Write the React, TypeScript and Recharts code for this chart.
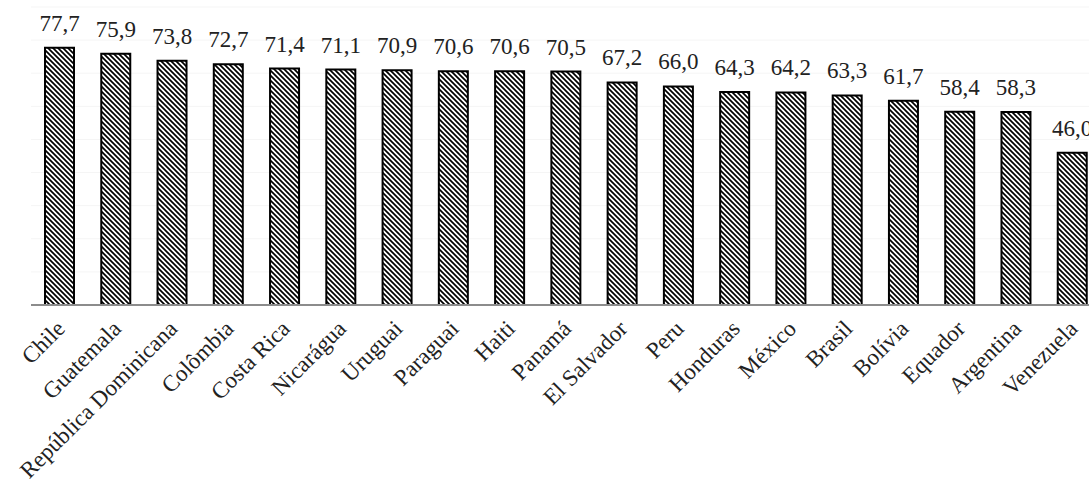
import { Bar, BarChart, CartesianGrid, LabelList, XAxis, YAxis } from "recharts";

const countries = [
  "Chile",
  "Guatemala",
  "República Dominicana",
  "Colômbia",
  "Costa Rica",
  "Nicarágua",
  "Uruguai",
  "Paraguai",
  "Haiti",
  "Panamá",
  "El Salvador",
  "Peru",
  "Honduras",
  "México",
  "Brasil",
  "Bolívia",
  "Equador",
  "Argentina",
  "Venezuela"
];

const values = [77.7, 75.9, 73.8, 72.7, 71.4, 71.1, 70.9, 70.6, 70.6, 70.5, 67.2, 66.0, 64.3, 64.2, 63.3, 61.7, 58.4, 58.3, 46.0];

const yTicks = [0, 10, 20, 30, 40, 50, 60, 70, 80, 90];

const data = countries.map((name, i) => ({ name, value: values[i] }));

const FONT = "'Liberation Serif', 'Times New Roman', serif";

function formatValue(v: number) {
  return v.toFixed(1).replace(".", ",");
}

function CountryTick({ x, y, payload }: { x?: number; y?: number; payload?: { value: string } }) {
  return (
    <g transform={`translate(${(x ?? 0) + 7},${(y ?? 0) + 17})`}>
      <text transform="rotate(-45)" textAnchor="end" fontSize={23} fontFamily={FONT} fill="#222">
        {payload?.value}
      </text>
    </g>
  );
}

function ValueLabel({ x, y, width, value }: { x?: number; y?: number; width?: number; value?: number }) {
  const cx = Number(x ?? 0) + Number(width ?? 0) / 2;
  return (
    <text x={cx} y={Number(y ?? 0) - 17} textAnchor="middle" fontSize={23} fontFamily={FONT} fill="#222">
      {formatValue(Number(value))}
    </text>
  );
}

export default function App() {
  return (
    <div style={{ position: "absolute", left: 0, top: 0, width: 1089, height: 486, overflow: "hidden", background: "#fff" }}>
      <BarChart width={1100} height={486} data={data} margin={{ top: 7, right: 0, bottom: 0, left: 31 }} barSize={29}>
        <defs>
          <pattern id="diag" patternUnits="userSpaceOnUse" width={5} height={5}>
            <rect width={5} height={5} fill="#fff" />
            <path d="M-1,4 L1,6 M0,0 L5,5 M4,-1 L6,1" stroke="#000" strokeWidth={1.7} />
          </pattern>
        </defs>
        <CartesianGrid vertical={false} stroke="#f5f5f5" />
        <XAxis
          dataKey="name"
          interval={0}
          height={181}
          tickLine={false}
          axisLine={{ stroke: "#8c8c8c", strokeWidth: 2 }}
          tick={<CountryTick />}
        />
        <YAxis hide width={0} domain={[0, 90]} ticks={yTicks} />
        <Bar dataKey="value" fill="url(#diag)" stroke="#000" strokeWidth={2} isAnimationActive={false}>
          <LabelList dataKey="value" content={<ValueLabel />} />
        </Bar>
      </BarChart>
    </div>
  );
}
